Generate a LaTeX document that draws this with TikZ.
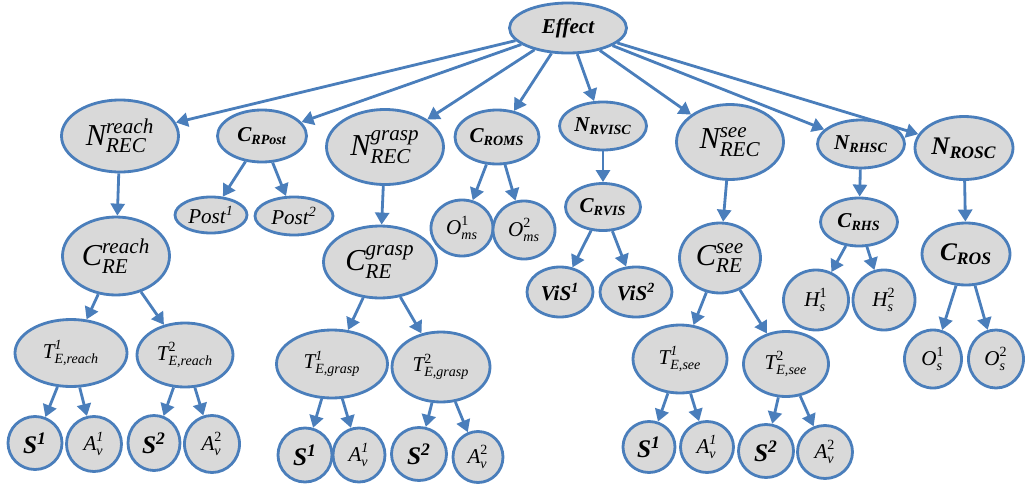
\documentclass[tikz,border=0pt]{standalone}
\usepackage{amsmath}
\usepackage{fontspec}
\setmainfont{Liberation Serif}
\usetikzlibrary{arrows.meta,shapes.geometric}
\definecolor{ovalblue}{RGB}{74,126,187}
\definecolor{ovalfill}{RGB}{217,217,217}
\newcommand{\lab}[3]{$\text{\itshape #1}^{\text{\itshape #2}}_{\text{\itshape #3}}$}
\begin{document}
\begin{tikzpicture}[x=0.2mm, y=-0.2mm, >={Triangle[length=2.4mm,width=2.8mm]}, oval/.style 2 args={ellipse, draw=ovalblue, fill=ovalfill, line width=1.6pt, inner sep=0pt, minimum width=#1*0.2mm, minimum height=#2*0.2mm}, edge/.style={->, draw=ovalblue, line width=1.6pt}, bi/.style={font=\large\bfseries\itshape}, bigbi/.style={font=\Large\bfseries\itshape}, rec/.style={font=\LARGE}]
\useasboundingbox (0,0) rectangle (1030,484);
\node[oval={117}{50}, bi] (eff) at (568,28) {Effect};
\node[oval={117}{72}, rec] (nreach) at (120,136) {\lab{N}{reach}{REC}};
\node[oval={89}{52}, bi] (crpost) at (262,136) {C\textsubscript{RPost}};
\node[oval={72}{36}, font=\large\itshape] (post1) at (211,215) {Post\textsuperscript{1}};
\node[oval={78}{38}, font=\large\itshape] (post2) at (294,216) {Post\textsuperscript{2}};
\node[oval={117}{75}, rec] (ngrasp) at (385,147) {\lab{N}{grasp}{REC}};
\node[oval={84}{54}, bi] (croms) at (497,137) {C\textsubscript{ROMS}};
\node[oval={62}{56}, font=\large] (oms1) at (462,228) {\lab{O}{\upshape 1}{ms}};
\node[oval={62}{58}, font=\large] (oms2) at (524,230) {\lab{O}{\upshape 2}{ms}};
\node[oval={87}{48}, bi] (nrvisc) at (603,126) {N\textsubscript{RVISC}};
\node[oval={75}{47}, bi] (crvis) at (603,207) {C\textsubscript{RVIS}};
\node[oval={66}{50}, bi] (vis1) at (560,292) {ViS\textsuperscript{1}};
\node[oval={72}{50}, bi] (vis2) at (636,292) {ViS\textsuperscript{2}};
\node[oval={107}{75}, rec] (nsee) at (730,142) {\lab{N}{see}{REC}};
\node[oval={81}{70}, rec] (csee) at (720,258) {\lab{C}{see}{RE}};
\node[oval={87}{48}, bi] (nrhsc) at (861,144) {N\textsubscript{RHSC}};
\node[oval={77}{48}, bi] (crhs) at (859,222) {C\textsubscript{RHS}};
\node[oval={65}{60}, font=\large] (hs1) at (816,300) {\lab{H}{\upshape 1}{s}};
\node[oval={62}{60}, font=\large] (hs2) at (884,300) {\lab{H}{\upshape 2}{s}};
\node[oval={98}{63}, bigbi] (nrosc) at (964,148) {N\textsubscript{ROSC}};
\node[oval={88}{62}, bigbi] (cros) at (966,254) {C\textsubscript{ROS}};
\node[oval={57}{58}, font=\large] (os1) at (933,359) {\lab{O}{\upshape 1}{s}};
\node[oval={55}{58}, font=\large] (os2) at (996,359) {\lab{O}{\upshape 2}{s}};
% reach branch
\node[oval={107}{78}, rec] (creach) at (116,256) {\lab{C}{reach}{RE}};
\node[oval={112}{67}, font=\large] (t1reach) at (71,353) {\lab{T}{1}{E,reach}};
\node[oval={96}{64}, font=\large] (t2reach) at (185,355) {\lab{T}{\upshape 2}{E,reach}};
\node[oval={54}{53}, bigbi] (s1reach) at (35,443) {S\textsuperscript{1}};
\node[oval={55}{55}, font=\large] (a1reach) at (94,444) {\lab{A}{1}{v}};
\node[oval={52}{55}, bigbi] (s2reach) at (154,443) {S\textsuperscript{2}};
\node[oval={55}{57}, font=\large] (a2reach) at (212,444) {\lab{A}{\upshape 2}{v}};
% grasp branch
\node[oval={113}{72}, rec] (cgrasp) at (380,262) {\lab{C}{grasp}{RE}};
\node[oval={111}{68}, font=\large] (t1grasp) at (332,364) {\lab{T}{1}{E,grasp}};
\node[oval={98}{70}, font=\large] (t2grasp) at (441,367) {\lab{T}{\upshape 2}{E,grasp}};
\node[oval={54}{54}, bigbi] (s1grasp) at (305,455) {S\textsuperscript{1}};
\node[oval={52}{54}, font=\large] (a1grasp) at (359,455) {\lab{A}{1}{v}};
\node[oval={55}{53}, bigbi] (s2grasp) at (419,454) {S\textsuperscript{2}};
\node[oval={50}{51}, font=\large] (a2grasp) at (478,457) {\lab{A}{\upshape 2}{v}};
% see branch
\node[oval={94}{68}, font=\large] (t1see) at (680,359) {\lab{T}{1}{E,see}};
\node[oval={85}{65}, font=\large] (t2see) at (786,364) {\lab{T}{\upshape 2}{E,see}};
\node[oval={52}{51}, bigbi] (s1see) at (649,447) {S\textsuperscript{1}};
\node[oval={53}{51}, font=\large] (a1see) at (707,447) {\lab{A}{1}{v}};
\node[oval={55}{53}, bigbi] (s2see) at (766,451) {S\textsuperscript{2}};
\node[oval={55}{53}, font=\large] (a2see) at (825,452) {\lab{A}{\upshape 2}{v}};
% arrows
\draw[edge] (eff) -- (nreach);
\draw[edge] (eff) -- (crpost);
\draw[edge] (eff) -- (ngrasp);
\draw[edge] (eff) -- (croms);
\draw[edge] (eff) -- (nrvisc);
\draw[edge] (eff) -- (nsee);
\draw[edge] (eff) -- (nrhsc);
\draw[edge] (eff) -- (nrosc);
\draw[edge] (nreach) -- (creach);
\draw[edge] (creach) -- (t1reach);
\draw[edge] (creach) -- (t2reach);
\draw[edge] (t1reach) -- (s1reach);
\draw[edge] (t1reach) -- (a1reach);
\draw[edge] (t2reach) -- (s2reach);
\draw[edge] (t2reach) -- (a2reach);
\draw[edge] (crpost) -- (post1);
\draw[edge] (crpost) -- (post2);
\draw[edge] (ngrasp) -- (cgrasp);
\draw[edge] (cgrasp) -- (t1grasp);
\draw[edge] (cgrasp) -- (t2grasp);
\draw[edge] (t1grasp) -- (s1grasp);
\draw[edge] (t1grasp) -- (a1grasp);
\draw[edge] (t2grasp) -- (s2grasp);
\draw[edge] (t2grasp) -- (a2grasp);
\draw[edge] (croms) -- (oms1);
\draw[edge] (croms) -- (oms2);
\draw[edge] (nrvisc) -- (crvis);
\draw[edge] (crvis) -- (vis1);
\draw[edge] (crvis) -- (vis2);
\draw[edge] (nsee) -- (csee);
\draw[edge] (csee) -- (t1see);
\draw[edge] (csee) -- (t2see);
\draw[edge] (t1see) -- (s1see);
\draw[edge] (t1see) -- (a1see);
\draw[edge] (t2see) -- (s2see);
\draw[edge] (t2see) -- (a2see);
\draw[edge] (nrhsc) -- (crhs);
\draw[edge] (crhs) -- (hs1);
\draw[edge] (crhs) -- (hs2);
\draw[edge] (nrosc) -- (cros);
\draw[edge] (cros) -- (os1);
\draw[edge] (cros) -- (os2);
\end{tikzpicture}
\end{document}
